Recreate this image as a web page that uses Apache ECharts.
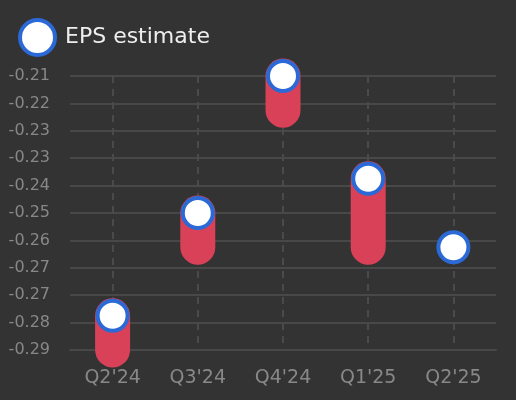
<!DOCTYPE html>
<html>
<head>
<meta charset="utf-8">
<script src="https://cdn.jsdelivr.net/npm/echarts@6/dist/echarts.min.js"></script>
<style>
  html, body { margin: 0; padding: 0; background: #333333; }
  #chart { width: 516px; height: 400px; }
</style>
</head>
<body>
<div id="chart"></div>
<script>
  var quarters = ["Q2'24", "Q3'24", "Q4'24", "Q1'25", "Q2'25"];
  var estimate = [-0.28, -0.25, -0.21, -0.24, -0.26];
  var actual = [-0.29, -0.26, -0.22, -0.26, null];

  var myChart = echarts.init(document.getElementById('chart'));

  // 预估值到实际值的区间，圆头粗线
  var rangeData = [];
  for (var i = 0; i < quarters.length; i++) {
    if (actual[i] !== null) {
      rangeData.push([i, estimate[i], actual[i]]);
    }
  }

  var option = {
    backgroundColor: '#333333',
    legend: {
      left: 13,
      top: 13,
      itemWidth: 35,
      itemHeight: 35,
      data: ['EPS estimate'],
      itemStyle: {
        borderWidth: 4
      },
      textStyle: {
        color: '#eeeeee',
        fontSize: 22,
        fontFamily: 'DejaVu Sans',
        padding: [3, 0, 0, 5]
      }
    },
    grid: {
      left: 70,
      right: 20,
      top: 76,
      bottom: 50
    },
    xAxis: {
      type: 'category',
      data: quarters,
      axisLine: {
        lineStyle: { color: '#484848', width: 2 }
      },
      axisTick: { show: false },
      axisLabel: {
        color: '#888888',
        fontSize: 19,
        fontFamily: 'DejaVu Sans',
        margin: 19
      },
      splitLine: {
        show: true,
        alignWithLabel: true,
        lineStyle: { color: '#4a4a4a', width: 2, type: [7, 6] }
      }
    },
    yAxis: {
      type: 'value',
      min: -0.29,
      max: -0.21,
      interval: 0.008,
      axisLine: { show: false },
      axisTick: { show: false },
      axisLabel: {
        color: '#888888',
        fontSize: 16,
        fontFamily: 'DejaVu Sans',
        margin: 20,
        formatter: function (v) { return v.toFixed(2); }
      },
      splitLine: {
        lineStyle: { color: '#484848', width: 2 }
      }
    },
    series: [{
      name: 'range',
      type: 'custom',
      data: rangeData,
      z: 2,
      renderItem: function (params, api) {
        var p1 = api.coord([api.value(0), api.value(1)]);
        var p2 = api.coord([api.value(0), api.value(2)]);
        return {
          type: 'line',
          shape: { x1: p1[0], y1: p1[1], x2: p2[0], y2: p2[1] },
          style: { stroke: '#d84157', lineWidth: 35, lineCap: 'round' }
        };
      }
    }, {
      name: 'EPS estimate',
      type: 'scatter',
      data: estimate,
      symbol: 'circle',
      symbolSize: 30,
      z: 3,
      itemStyle: {
        color: '#ffffff',
        borderColor: '#2b69d6',
        borderWidth: 4,
        opacity: 1
      }
    }]
  };
  myChart.setOption(option);
</script>
</body>
</html>
